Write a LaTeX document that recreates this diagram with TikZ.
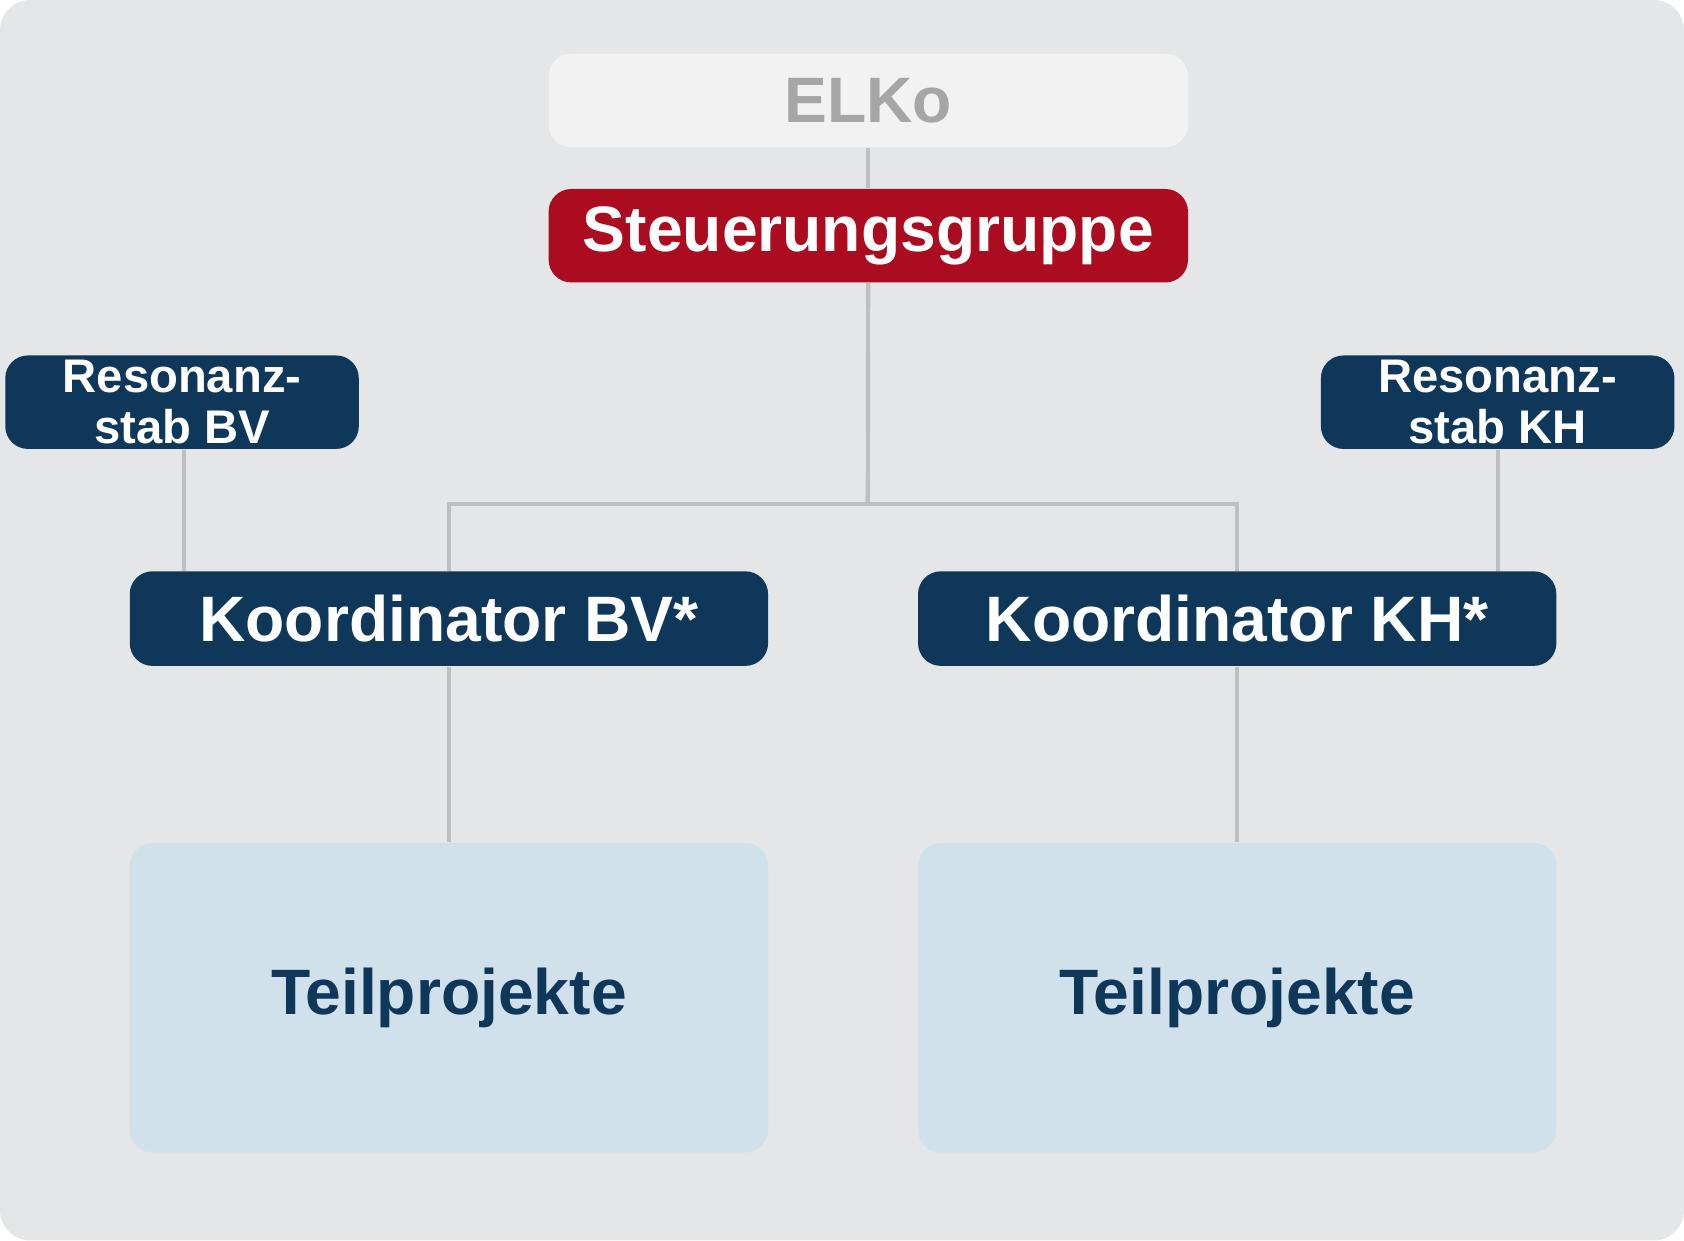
\documentclass[tikz,border=0pt]{standalone}
\usepackage{fontspec}
\setmainfont{Liberation Sans}
\usetikzlibrary{positioning}
\definecolor{bggray}{HTML}{E5E6E8}
\definecolor{elkofill}{HTML}{F2F2F2}
\definecolor{elkotext}{HTML}{A6A6A6}
\definecolor{steuerred}{HTML}{AC0C20}
\definecolor{navy}{HTML}{0E3759}
\definecolor{tpfill}{HTML}{D0E1EB}
\definecolor{linegray}{HTML}{BFBFBF}
\begin{document}
\begin{tikzpicture}[x=0.01cm,y=-0.01cm,
  box/.style={rounded corners=6pt, font=\bfseries\fontsize{17}{19}\selectfont, inner sep=0pt, align=center},
  navybox/.style={box, fill=navy, text=white, minimum width=5.94cm, minimum height=0.88cm},
  resbox/.style={box, fill=navy, text=white, minimum width=3.29cm, minimum height=0.87cm, font=\bfseries\fontsize{12.5}{13.5}\selectfont},
  tpbox/.style={box, fill=tpfill, text=navy, minimum width=5.94cm, minimum height=2.88cm},
  conn/.style={draw=linegray, line width=1.1pt}]

 \fill[bggray, rounded corners=8pt] (0,0) rectangle (1568,1155);
 \useasboundingbox (0,0) rectangle (1568,1155);

 % top
 \node[box, fill=elkofill, text=elkotext, minimum width=5.95cm, minimum height=0.87cm] (elko) at (808.5,93.5) {ELKo};
 \node[box, fill=steuerred, text=white, minimum width=5.95cm, minimum height=0.87cm] (steuer) at (808.5,219.5) {Steuerungsgruppe};

 % resonanz
 \node[resbox] (resbv) at (169.5,374.5) {Resonanz-\\stab BV};
 \node[resbox] (reskh) at (1394.5,374.5) {Resonanz-\\stab KH};

 % koordinatoren
 \node[navybox] (kobv) at (418,576) {Koordinator BV*};
 \node[navybox] (kokh) at (1152,576) {Koordinator KH*};

 % teilprojekte
 \node[tpbox] (tpbv) at (418,929) {Teilprojekte};
 \node[tpbox] (tpkh) at (1152,929) {Teilprojekte};

 % lines
 \coordinate (fork) at (808,469);
 \draw[conn] (elko) -- (steuer);
 \draw[conn] (steuer) -- (fork);
 \draw[conn] (kobv.north) |- (fork) -| (kokh.north);
 \draw[conn] (resbv.south -| 171,0) -- (kobv.north -| 171,0);
 \draw[conn] (reskh.south) -- (kokh.north -| reskh.south);
 \draw[conn] (kobv) -- (tpbv);
 \draw[conn] (kokh) -- (tpkh);
\end{tikzpicture}
\end{document}
